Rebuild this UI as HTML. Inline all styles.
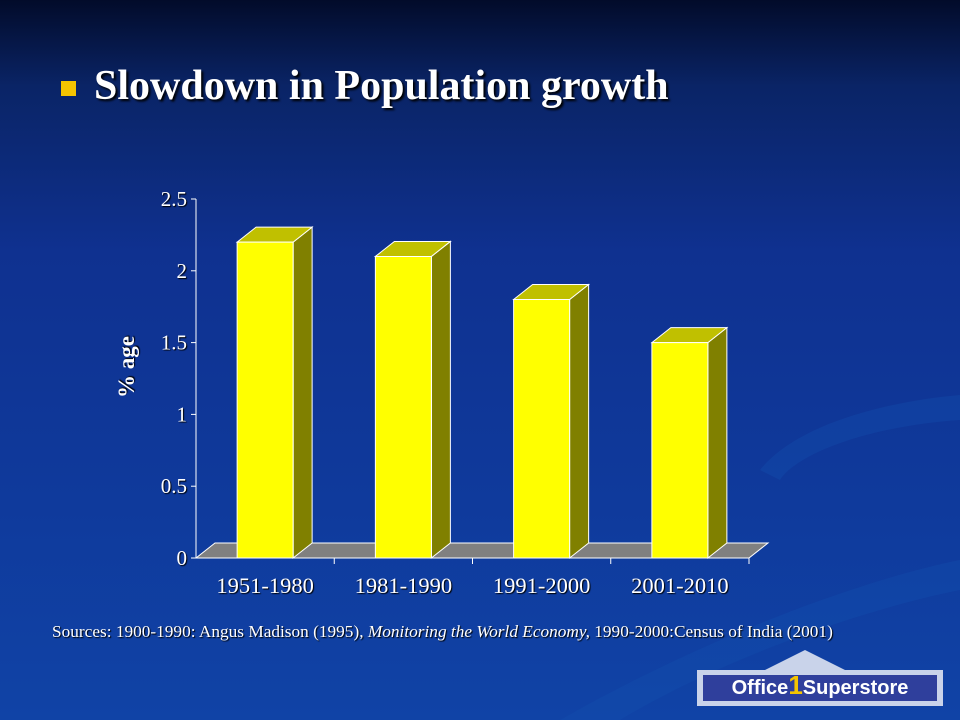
<!DOCTYPE html>
<html><head><meta charset="utf-8"><style>
body{margin:0;width:960px;height:720px;overflow:hidden;font-family:"Liberation Serif",serif;}
#bg{position:absolute;left:0;top:0;width:960px;height:720px;background:linear-gradient(180deg,#020b2a 0%,#0a2466 12%,#0f3190 35%,#0f3a9c 70%,#1043a6 100%);}
.t{position:absolute;color:#fff;}
#chart text{text-shadow:1px 1px 1px #000;}
</style></head><body>
<div id="bg"></div>
<svg width="960" height="720" style="position:absolute;left:0;top:0">
<path d="M560 720 C700 640 860 580 960 560 L960 590 C860 610 720 660 620 720Z" fill="#1550b0" opacity="0.35"/>
<path d="M760 470 C800 420 900 400 960 395 L960 420 C880 425 800 450 780 480Z" fill="#1550b0" opacity="0.35"/>
</svg>
<div class="t" style="left:61px;top:81px;width:15px;height:15px;background:#f5c400"></div>
<div class="t" style="left:94px;top:62px;font-size:42px;font-weight:bold;text-shadow:2px 2px 2px #000">Slowdown in Population growth</div>
<svg id="chart" width="960" height="720" style="position:absolute;left:0;top:0"></svg>
<div class="t" style="left:52px;top:622px;font-size:17.3px;text-shadow:1px 1px 1px #000">Sources: 1900-1990: Angus Madison (1995), <i>Monitoring the World Economy,</i> 1990-2000:Census of India (2001)</div>
<svg width="250" height="70" style="position:absolute;left:695px;top:648px">
<polygon points="2,22 70,22 110,2 150,22 248,22 248,58 2,58" fill="#c9d3ea"/>
<rect x="8" y="27" width="234" height="26" fill="#2f3f9c"/>
<text x="125" y="46" text-anchor="middle" font-family="Liberation Sans,sans-serif" font-weight="bold" font-size="20" fill="#fff">Office<tspan fill="#f5c400" font-size="26">1</tspan>Superstore</text>
</svg>
<script>
const categories=["1951-1980","1981-1990","1991-2000","2001-2010"];
const values=[2.2,2.1,1.8,1.5];
const ticks=[0,0.5,1,1.5,2,2.5];
const NS="http://www.w3.org/2000/svg";
const svg=document.getElementById("chart");
const x0=196,x1=749,y0=558,pxPerUnit=143.6,dx=19,dy=15,bw=56;
const cw=(x1-x0)/categories.length;
const ys=v=>y0-v*pxPerUnit;
function mk(tag,a){const e=document.createElementNS(NS,tag);for(const k in a)e.setAttribute(k,a[k]);svg.appendChild(e);return e;}
let fl=mk("polygon",{points:`${x0},${y0} ${x1},${y0} ${x1+dx},${y0-dy} ${x0+dx},${y0-dy}`,fill:"#808080",stroke:"#fff","stroke-width":1});


let ax=mk("line",{x1:x0,y1:ys(2.5),x2:x0,y2:y0,stroke:"#fff"});


let bx=mk("line",{x1:x0,y1:y0,x2:x1,y2:y0,stroke:"#fff"});


ticks.forEach(t=>{
 mk("line",{x1:x0-5,y1:ys(t),x2:x0,y2:ys(t),stroke:"#fff"});
 let tx=mk("text",{x:x0-9,y:ys(t)+7,"text-anchor":"end","font-size":21,fill:"#fff","font-family":"Liberation Serif,serif"});
 tx.textContent=t;
 
 
});
categories.forEach((c,i)=>{
 const cx=x0+cw*(i+0.5);
 mk("line",{x1:x0+cw*(i+1),y1:y0,x2:x0+cw*(i+1),y2:y0+6,stroke:"#fff"});
 let tx=mk("text",{x:cx,y:y0+35,"text-anchor":"middle","font-size":22.5,fill:"#fff","font-family":"Liberation Serif,serif"});
 tx.textContent=c;
 
 
 const l=cx-bw/2,r=cx+bw/2,top=ys(values[i]);
 const g=document.createElementNS(NS,"g");svg.appendChild(g);
 
 
 const p=(pts,f)=>{const e=document.createElementNS(NS,"polygon");e.setAttribute("points",pts);e.setAttribute("fill",f);e.setAttribute("stroke","#fff");e.setAttribute("stroke-width","1");g.appendChild(e);};
 p(`${r},${top} ${r+dx},${top-dy} ${r+dx},${y0-dy} ${r},${y0}`,"#808000");
 p(`${l},${top} ${l+dx},${top-dy} ${r+dx},${top-dy} ${r},${top}`,"#c0c000");
 p(`${l},${top} ${r},${top} ${r},${y0} ${l},${y0}`,"#ffff00");
});
let yt=mk("text",{x:0,y:0,"text-anchor":"middle","font-size":23,"font-weight":"bold",fill:"#fff","font-family":"Liberation Serif,serif",transform:"translate(134,367) rotate(-90)"});
yt.textContent="% age";


</script>
</body></html>
